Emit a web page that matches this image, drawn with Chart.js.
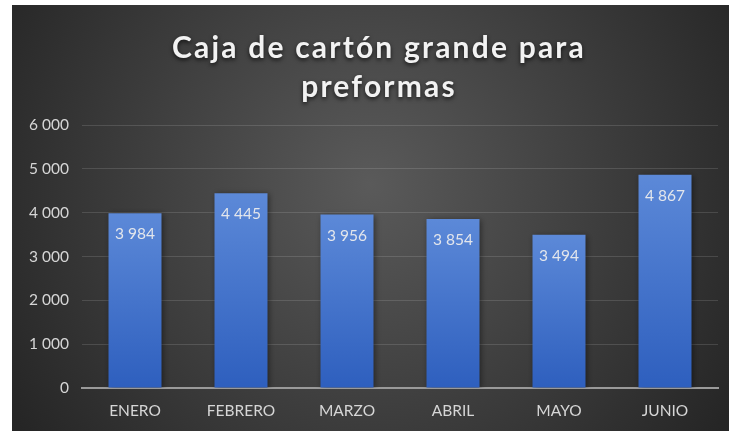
<!DOCTYPE html>
<html lang="es">
<head>
<meta charset="utf-8">
<title>Caja de cartón grande para preformas</title>
<script src="https://cdn.jsdelivr.net/npm/chart.js@4/dist/chart.umd.min.js"></script>
<style>
  html, body { margin: 0; padding: 0; background: #ffffff; }
  #wrap { position: absolute; left: 12px; top: 5px; width: 717px; height: 426px; }
</style>
</head>
<body>
<div id="wrap"><canvas id="chart" width="717" height="426"></canvas></div>
<script>
// Monthly quantities (units)
const titleLines = ['Caja de cartón grande para', 'preformas'];
const months = ['ENERO', 'FEBRERO', 'MARZO', 'ABRIL', 'MAYO', 'JUNIO'];
const quantities = [3984, 4445, 3956, 3854, 3494, 4867];
const yMin = 0;
const yMax = 6000;
const yStep = 1000;

const FONT = 'Lato, "Open Sans", "DejaVu Sans", sans-serif';

// Thousands separated by a plain space: 4445 -> "4 445"
function fmt(v) {
  return String(v).replace(/\B(?=(\d{3})+(?!\d))/g, ' ');
}

// Dark radial backdrop behind the whole chart
const backdrop = {
  id: 'backdrop',
  beforeDraw(chart) {
    const { ctx, width, height } = chart;
    const cx = width * 0.5, cy = height * 0.42;
    const g = ctx.createRadialGradient(cx, cy, 0, cx, cy, 430);
    g.addColorStop(0, '#5a5a5a');
    g.addColorStop(1, '#252525');
    ctx.save();
    ctx.fillStyle = g;
    ctx.fillRect(0, 0, width, height);
    ctx.restore();
  }
};

// Two-line spaced title with a soft shadow
const spacedTitle = {
  id: 'spacedTitle',
  afterDraw(chart) {
    const { ctx } = chart;
    ctx.save();
    ctx.font = 'bold 30px ' + FONT;
    ctx.fillStyle = '#f2f2f2';
    ctx.textAlign = 'center';
    ctx.textBaseline = 'middle';
    ctx.letterSpacing = '2.2px';
    ctx.shadowColor = 'rgba(0,0,0,0.7)';
    ctx.shadowBlur = 4;
    ctx.shadowOffsetY = 2;
    const cx = 367;
    titleLines.forEach((line, i) => ctx.fillText(line, cx, 43 + i * 39));
    ctx.restore();
  }
};

// Soft shadow under the bars, then value labels inside the bar tops
const barDecor = {
  id: 'barDecor',
  beforeDatasetsDraw(chart) {
    const { ctx } = chart;
    ctx.save();
    ctx.shadowColor = 'rgba(0,0,0,0.45)';
    ctx.shadowBlur = 6;
    ctx.shadowOffsetX = 1;
    ctx.shadowOffsetY = 1;
  },
  afterDatasetsDraw(chart) {
    const { ctx } = chart;
    ctx.restore();
    ctx.save();
    ctx.font = '15.5px ' + FONT;
    ctx.fillStyle = '#e3e6ec';
    ctx.textAlign = 'center';
    ctx.textBaseline = 'middle';
    const meta = chart.getDatasetMeta(0);
    meta.data.forEach((bar, i) => {
      ctx.fillText(fmt(chart.data.datasets[0].data[i]), bar.x, bar.y + 21);
    });
    ctx.restore();
  }
};

// Per-bar vertical gradient, lighter at the top
function barFill(context) {
  const chart = context.chart;
  const y = chart.scales.y;
  if (!chart.chartArea || !y || context.raw == null) return '#4472c4';
  const top = y.getPixelForValue(context.raw);
  const base = y.getPixelForValue(0);
  if (!isFinite(top) || !isFinite(base) || top === base) return '#4472c4';
  const g = chart.ctx.createLinearGradient(0, top, 0, base);
  g.addColorStop(0, '#5c89d8');
  g.addColorStop(1, '#2e5fbe');
  return g;
}

new Chart(document.getElementById('chart'), {
  type: 'bar',
  data: {
    labels: months,
    datasets: [{
      data: quantities,
      backgroundColor: barFill,
      borderWidth: 0,
      barPercentage: 1,
      categoryPercentage: 0.5
    }]
  },
  options: {
    responsive: false,
    devicePixelRatio: 1,
    animation: false,
    events: [],
    layout: { padding: { top: 120, right: 11, left: 0, bottom: 0 } },
    plugins: {
      legend: { display: false },
      title: { display: false },
      tooltip: { enabled: false }
    },
    scales: {
      y: {
        min: yMin,
        max: yMax,
        afterFit(scale) { scale.width = 70; },
        ticks: {
          stepSize: yStep,
          color: '#d6d6d6',
          font: { family: FONT, size: 15.5 },
          padding: 13,
          callback: v => fmt(v)
        },
        grid: { color: 'rgba(255,255,255,0.13)', lineWidth: 1, drawTicks: false },
        border: { display: false }
      },
      x: {
        afterFit(scale) { scale.height = 43; },
        ticks: {
          color: '#d6d6d6',
          font: { family: FONT, size: 15.5 },
          padding: 14
        },
        grid: { display: true, drawOnChartArea: false, drawTicks: false },
        border: { display: true, color: '#9a9a9a', width: 2 }
      }
    }
  },
  plugins: [backdrop, spacedTitle, barDecor]
});
</script>
</body>
</html>
